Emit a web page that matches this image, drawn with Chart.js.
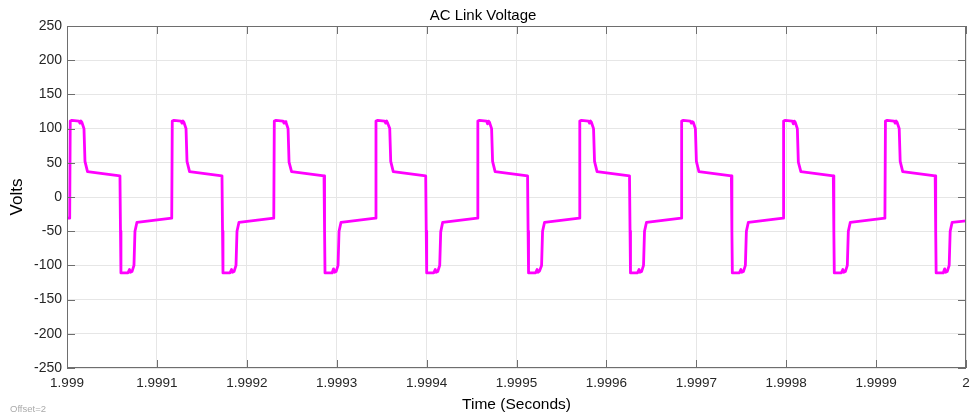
<!DOCTYPE html>
<html>
<head>
<meta charset="utf-8">
<script src="https://cdn.jsdelivr.net/npm/chart.js@4/dist/chart.umd.min.js"></script>
<style>
    body { margin: 0; background: #fff; }
    #wrap { position: relative; width: 973px; height: 417px; }
    #offset { position: absolute; left: 10px; top: 403px; font: 9.5px "Liberation Sans", Arial, sans-serif; color: #aaa; }
</style>
</head>
<body>
<div id="wrap">
    <canvas id="VoltageChart"></canvas>
    <div id="offset">Offset=2</div>
</div>
<script>
// time in microseconds after 1.999 s
const timeUs = [
    0,
    3.0, 3.6, 5.5, 13.3, 14.4, 15.5, 16.6, 18.9, 20.0, 22.8, 58.9, 59.5, 60.0, 67.8, 69.5, 70.6, 72.3, 74.5, 75.6, 77.8,
    116.5, 117.1, 119.0, 126.8, 127.9, 129.0, 130.1, 132.4, 133.5, 136.3, 172.4, 173.0, 173.5, 181.3, 183.0, 184.1, 185.8, 188.0, 189.1, 191.3,
    230.0, 230.6, 232.5, 240.3, 241.4, 242.5, 243.6, 245.9, 247.0, 249.8, 285.9, 286.5, 287.0, 294.8, 296.5, 297.6, 299.3, 301.5, 302.6, 304.8,
    343.1, 343.7, 345.6, 353.4, 354.5, 355.6, 356.7, 359.0, 360.1, 362.9, 399.0, 399.6, 400.1, 407.9, 409.6, 410.7, 412.4, 414.6, 415.7, 417.9,
    456.4, 457.0, 458.9, 466.7, 467.8, 468.9, 470.0, 472.3, 473.4, 476.2, 512.3, 512.9, 513.4, 521.2, 522.9, 524.0, 525.7, 527.9, 529.0, 531.2,
    569.8, 570.4, 572.3, 580.1, 581.2, 582.3, 583.4, 585.7, 586.8, 589.6, 625.7, 626.3, 626.8, 634.6, 636.3, 637.4, 639.1, 641.3, 642.4, 644.6,
    683.1, 683.7, 685.6, 693.4, 694.5, 695.6, 696.7, 699.0, 700.1, 702.9, 739.0, 739.6, 740.1, 747.9, 749.6, 750.7, 752.4, 754.6, 755.7, 757.9,
    796.5, 797.1, 799.0, 806.8, 807.9, 809.0, 810.1, 812.4, 813.5, 816.3, 852.4, 853.0, 853.5, 861.3, 863.0, 864.1, 865.8, 868.0, 869.1, 871.3,
    909.8, 910.4, 912.3, 920.1, 921.2, 922.3, 923.4, 925.7, 926.8, 929.6, 965.7, 966.3, 966.8, 974.6, 976.3, 977.4, 979.1, 981.3, 982.4, 984.6,
    1000
];

const volts = [
    -31,
    -31, 111, 112, 111, 108, 111, 109, 100, 52, 37, 31, -50, -111, -111, -106, -110, -109, -100, -50, -37,
    -31, 111, 112, 111, 108, 111, 109, 100, 52, 37, 31, -50, -111, -111, -106, -110, -109, -100, -50, -37,
    -31, 111, 112, 111, 108, 110, 109, 100, 51, 37, 31, -50, -111, -111, -105, -110, -109, -100, -50, -37,
    -31, 111, 112, 111, 108, 111, 108, 100, 52, 37, 31, -50, -111, -111, -106, -110, -109, -100, -51, -37,
    -31, 111, 112, 111, 107, 111, 109, 100, 52, 37, 31, -50, -111, -111, -106, -110, -108, -100, -50, -37,
    -31, 111, 112, 111, 108, 111, 109, 100, 52, 37, 31, -50, -111, -111, -106, -110, -109, -100, -50, -37,
    -31, 111, 112, 111, 108, 110, 109, 100, 52, 37, 31, -50, -111, -111, -106, -110, -109, -100, -50, -37,
    -31, 111, 112, 111, 107, 111, 109, 100, 51, 37, 31, -50, -111, -111, -106, -110, -109, -100, -50, -37,
    -31, 111, 112, 111, 108, 111, 109, 100, 52, 37, 31, -50, -111, -111, -105, -110, -109, -100, -50, -37,
    -35
];

const xTickStart = 1.999;
const xTickEnd = 2;
const xTickStep = 0.0001;
const yTickStart = -250;
const yTickEnd = 250;
const yTickStep = 50;

const points = timeUs.map((t, i) => ({ x: xTickStart + t / 1e6, y: volts[i] }));

// MATLAB style box with ticks pointing inward
const boxTicks = {
    id: "boxTicks",
    afterDraw(chart) {
        const { ctx, chartArea: a, scales: { x, y } } = chart;
        const len = 8;
        ctx.save();
        ctx.strokeStyle = "#6e6e6e";
        ctx.lineWidth = 1;
        ctx.strokeRect(Math.round(a.left) + 0.5, Math.round(a.top) + 0.5, Math.round(a.width) - 1, Math.round(a.height) - 1);
        ctx.beginPath();
        x.ticks.forEach(t => {
            const px = Math.round(x.getPixelForValue(t.value)) + 0.5;
            ctx.moveTo(px, a.bottom); ctx.lineTo(px, a.bottom - len);
            ctx.moveTo(px, a.top); ctx.lineTo(px, a.top + len);
        });
        y.ticks.forEach(t => {
            const py = Math.round(y.getPixelForValue(t.value)) + 0.5;
            ctx.moveTo(a.left, py); ctx.lineTo(a.left + len, py);
            ctx.moveTo(a.right, py); ctx.lineTo(a.right - len, py);
        });
        ctx.stroke();
        ctx.restore();
    }
};

const ctx = document.getElementById("VoltageChart").getContext("2d");

const voltageChart = new Chart(ctx, {
    type: "line",
    data: {
        datasets: [
            {
                label: "AC Link Voltage",
                data: points,
                borderColor: "#ff00ff",
                backgroundColor: "#ff00ff",
                borderWidth: 2.8,
                borderJoinStyle: "round",
                borderCapStyle: "round",
                pointRadius: 0,
                tension: 0
            }
        ]
    },
    options: {
        responsive: true,
        maintainAspectRatio: false,
        animation: false,
        layout: { padding: { right: 7 } },
        plugins: {
            legend: { display: false },
            tooltip: { enabled: false },
            title: {
                display: true,
                text: "AC Link Voltage",
                color: "#000",
                font: { family: "Liberation Sans, Arial, sans-serif", size: 15, weight: "normal", lineHeight: 1.2 },
                padding: { top: 7, bottom: 1 }
            }
        },
        scales: {
            x: {
                type: "linear",
                min: xTickStart,
                max: xTickEnd,
                afterFit: s => { s.height = 49; s.paddingLeft = 0; s.paddingRight = 0; },
                border: { display: false },
                grid: { color: "#e6e6e6", drawTicks: false },
                ticks: {
                    stepSize: xTickStep,
                    padding: 7,
                    maxRotation: 0,
                    autoSkip: false,
                    color: "#262626",
                    font: { family: "Liberation Sans, Arial, sans-serif", size: 13.5 },
                    callback: v => parseFloat(v.toFixed(4)).toString()
                },
                title: {
                    display: true,
                    text: "Time (Seconds)",
                    color: "#000",
                    font: { family: "Liberation Sans, Arial, sans-serif", size: 15.5 },
                    padding: { top: 0, bottom: 3 }
                }
            },
            y: {
                min: yTickStart,
                max: yTickEnd,
                afterFit: s => { s.width = 67; },
                border: { display: false },
                grid: { color: "#e6e6e6", drawTicks: false },
                ticks: {
                    stepSize: yTickStep,
                    padding: 5,
                    color: "#262626",
                    font: { family: "Liberation Sans, Arial, sans-serif", size: 14 },
                    callback: v => String(v)
                },
                title: {
                    display: true,
                    text: "Volts",
                    color: "#000",
                    font: { family: "Liberation Sans, Arial, sans-serif", size: 17 },
                    padding: { top: 7, bottom: 0 }
                }
            }
        }
    },
    plugins: [boxTicks]
});
</script>
</body>
</html>
